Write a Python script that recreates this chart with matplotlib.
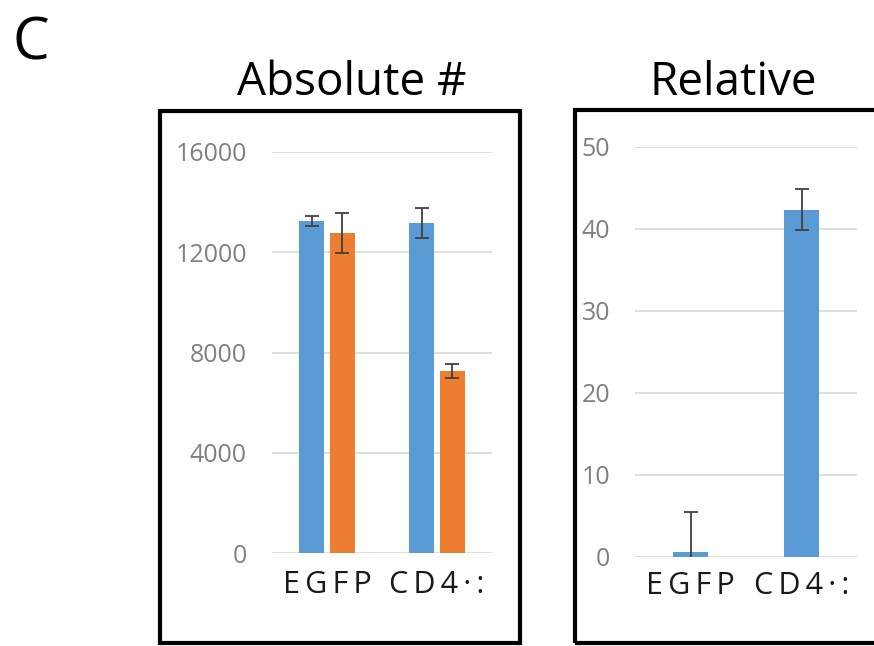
import matplotlib
matplotlib.use("Agg")
import matplotlib.pyplot as plt
from matplotlib.patches import Rectangle
import numpy as np

plt.rcParams["font.family"] = ["Open Sans", "DejaVu Sans"]

# data
categories = ["EGFP", "CD4·:"]
abs_blue = [13250, 13150]
abs_blue_err = [200, 590]
abs_orange = [12750, 7270]
abs_orange_err = [800, 280]
abs_ticks = [0, 4000, 8000, 12000, 16000]

rel_values = [0.6, 42.3]
rel_err = [4.8, 2.5]
rel_ticks = [0, 10, 20, 30, 40, 50]

panel_titles = ["Absolute #", "Relative"]
panel_letter = "C"

BLUE = "#5b9bd5"
ORANGE = "#ed7d31"
ERR = "#404040"
GRID = "#d9d9d9"
TICK = "#808080"

W, H = 874, 646
fig = plt.figure(figsize=(W / 100, H / 100), dpi=100)


def px_rect(x0, y0, x1, y1):
    return [x0 / W, 1 - y1 / H, (x1 - x0) / W, (y1 - y0) / H]


def spaced(label):
    return "\u2009".join(label)


def style_axes(ax, ticks, xpad):
    ax.set_yticks(ticks)
    ax.yaxis.grid(True, color=GRID, linewidth=1.2)
    ax.set_axisbelow(True)
    for s in ax.spines.values():
        s.set_visible(False)
    ax.tick_params(axis="y", length=0, pad=18, labelsize=18, labelcolor=TICK)
    ax.tick_params(axis="x", length=0, pad=xpad, labelsize=22, labelcolor="#1a1a1a")
    ax.set_xticks(range(len(categories)))
    ax.set_xticklabels([spaced(c) for c in categories])
    ax.set_xlim(-0.5, len(categories) - 0.5)


x = np.arange(len(categories))
ekw = dict(ecolor=ERR, elinewidth=1.3, capsize=5, capthick=1.3)

ax1 = fig.add_axes(px_rect(272, 151.7, 492, 553.3))
w = 0.23
ax1.bar(x - 0.14, abs_blue, w, color=BLUE, yerr=abs_blue_err, error_kw=ekw)
ax1.bar(x + 0.14, abs_orange, w, color=ORANGE, yerr=abs_orange_err, error_kw=ekw)
ax1.set_ylim(0, 16000)
style_axes(ax1, abs_ticks, 12)

ax2 = fig.add_axes(px_rect(635, 146.7, 857, 556.7))
ax2.bar(x, rel_values, 0.32, color=BLUE, yerr=rel_err, error_kw=ekw)
ax2.set_ylim(0, 50)
style_axes(ax2, rel_ticks, 10)

# panel frames
for x0, y0, x1, y1 in [(160, 111, 519.5, 643), (575, 110, 920, 643)]:
    fig.add_artist(Rectangle((x0 / W, 1 - y1 / H), (x1 - x0) / W, (y1 - y0) / H,
                             transform=fig.transFigure, fill=False,
                             edgecolor="black", linewidth=3, zorder=5))

fig.text(351.5 / W, 1 - 95 / H, panel_titles[0], ha="center", va="baseline", fontsize=33)
fig.text(733 / W, 1 - 95 / H, panel_titles[1], ha="center", va="baseline", fontsize=33)
fig.text(12 / W, 1 - 60 / H, panel_letter, ha="left", va="baseline", fontsize=42)

fig.savefig("out.png", dpi=100)
